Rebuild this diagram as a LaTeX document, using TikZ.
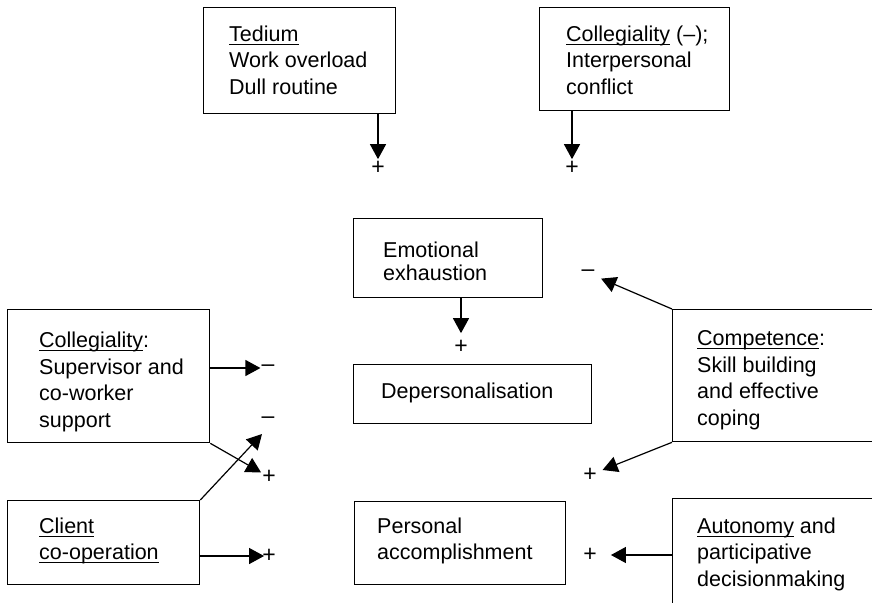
\documentclass[tikz,border=0pt]{standalone}
\usepackage{amsmath}
\usepackage{fontspec}
\setmainfont{Liberation Sans}
\usetikzlibrary{arrows.meta}
\newcommand{\undl}[1]{\underline{\smash[b]{#1}}}

\begin{document}
\begin{tikzpicture}[x=1pt,y=-1pt,
    box/.style={draw,line width=1.3pt,anchor=north west,inner sep=0pt},
    txt/.style={anchor=west,align=left,inner sep=0pt,font=\fontsize{21.5}{26.5}\selectfont},
    sign/.style={inner sep=1pt,font=\fontsize{23}{26.5}\selectfont},
    arr/.style={-{Triangle[length=15pt,width=16pt]},line width=1.2pt}]
    \useasboundingbox (0,0) rectangle (872,602);
    \clip (0,0) rectangle (872,602);
    % boxes
    \node[box,minimum width=192pt,minimum height=106pt] (ted) at (203,7) {};
    \node[box,minimum width=190pt,minimum height=103pt] (colT) at (539,7) {};
    \node[box,minimum width=189pt,minimum height=79pt] (emo) at (353,218) {};
    \node[box,minimum width=238pt,minimum height=59pt] (dep) at (353,364) {};
    \node[box,minimum width=202pt,minimum height=133pt] (colL) at (7,309) {};
    \node[box,minimum width=260pt,minimum height=132pt] (comp) at (672,309) {};
    \node[box,minimum width=192pt,minimum height=84pt] (cli) at (7,500) {};
    \node[box,minimum width=211pt,minimum height=83pt] (per) at (354,501) {};
    \node[box,minimum width=260pt,minimum height=114pt] (aut) at (672,498) {};
    % texts
    \node[txt] (tedT) at (229,60) {\undl{Tedium}\\Work overload\\Dull routine};
    \node[txt] (colTT) at (566,60) {\undl{Collegiality} (–);\\Interpersonal\\conflict};
    \node[txt,font=\fontsize{21.5}{23}\selectfont] (emoT) at (383,261) {Emotional\\exhaustion};
    \node[txt] (depT) at (381,393) {Depersonalisation};
    \node[txt] (colLT) at (39,382) {\undl{Collegiality}:\\Supervisor and\\co-worker\\support};
    \node[txt] (compT) at (697,380) {\undl{Competence}:\\Skill building\\and effective\\coping};
    \node[txt] (cliT) at (39,541) {\undl{Client}\\\undl{co-operation}};
    \node[txt] (perT) at (377,541) {Personal\\accomplishment};
    \node[txt] (autT) at (697,554) {\undl{Autonomy} and\\participative\\decisionmaking};
    % signs
    \node[sign] (pT) at (378,168) {+};
    \node[sign] (pC) at (572,168) {+};
    \node[sign] (pE) at (461,347) {+};
    \node[sign] (mE) at (588,273) {–};
    \node[sign] (mCL) at (268,368) {–};
    \node[sign] (mCD) at (268,420) {–};
    \node[sign] (pCL) at (269,477) {+};
    \node[sign] (pCH) at (269,556) {+};
    \node[sign] (pCO) at (590,475) {+};
    \node[sign] (pA) at (590,555) {+};
    % arrows
    \draw[arr,shorten >=1pt] (pT |- ted.south) -- (pT.north);
    \draw[arr,shorten >=1pt] (pC |- colT.south) -- (pC.north);
    \draw[arr,shorten >=6pt] (pE |- emo.south) -- (pE.north);
    \draw[arr,shorten >=6pt] (comp.north west) -- (mE);
    \draw[arr] (colL.east |- mCL) -- (mCL.west);
    \draw[arr] (colL.south east) -- (pCL);
    \draw[arr] (cli.north east) -- ([shift={(-6pt,-14pt)}]mCD.center);
    \draw[arr,shorten >=-3pt] (cli.east |- pCH) -- (pCH.west);
    \draw[arr,shorten >=5pt] (comp.south west) -- (pCO);
    \draw[arr,shorten >=13pt] (aut.west |- pA) -- (pA.east);
\end{tikzpicture}
\end{document}
